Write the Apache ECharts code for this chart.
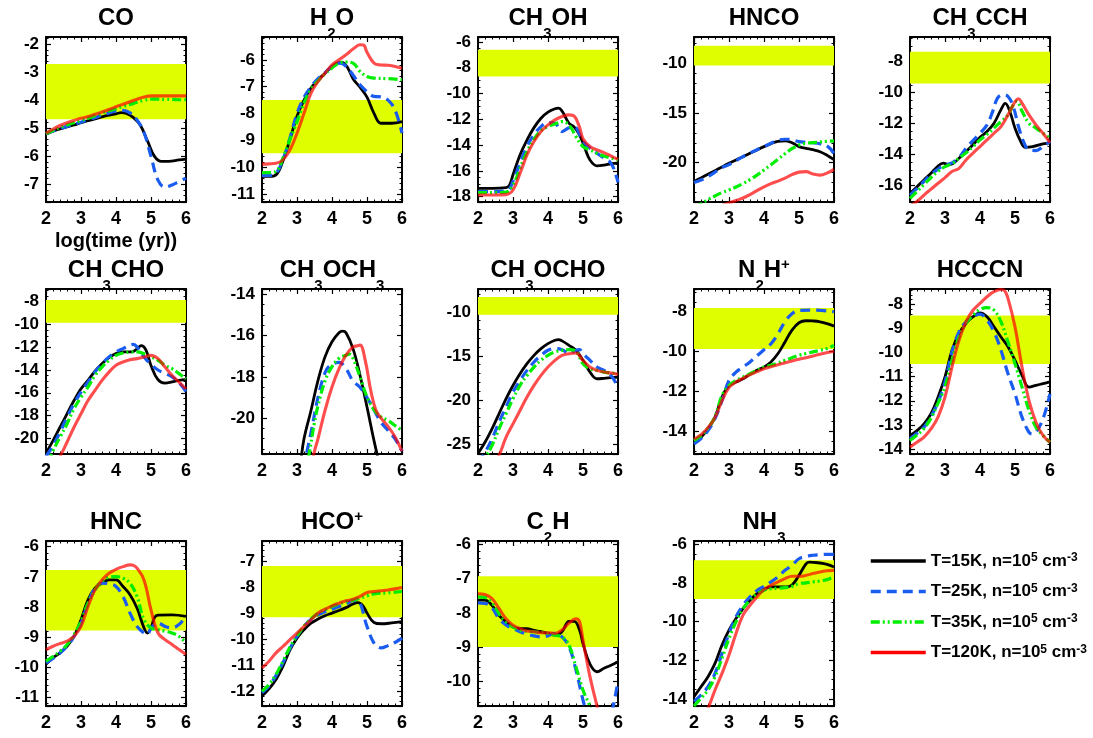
<!DOCTYPE html>
<html><head><meta charset="utf-8">
<script src="https://cdn.jsdelivr.net/npm/echarts@6/dist/echarts.min.js"></script>
<style>html,body{margin:0;padding:0;background:#fff;}#c{width:1093px;height:738px;}</style>
</head><body><div id="c"></div>
<script>
// ---------------- data (x = log(time/yr), y = log abundance) ----------------
const CO_15 = [[2,-5.2],[2.2,-5.1],[2.4,-5.02],[2.6,-4.95],[2.8,-4.88],[3,-4.8],[3.2,-4.73],[3.4,-4.66],[3.6,-4.59],[3.8,-4.53],[4,-4.48],[4.15,-4.44],[4.3,-4.47],[4.5,-4.62],[4.7,-4.9],[4.9,-5.45],[5.1,-6.0],[5.3,-6.18],[5.5,-6.18],[5.8,-6.13],[6,-6.1]];
const CO_25 = [[2,-5.2],[2.2,-5.1],[2.4,-5.01],[2.6,-4.93],[2.8,-4.86],[3,-4.78],[3.2,-4.7],[3.4,-4.62],[3.6,-4.53],[3.8,-4.45],[4,-4.38],[4.2,-4.36],[4.4,-4.45],[4.6,-4.7],[4.8,-5.15],[5,-6.0],[5.2,-6.85],[5.4,-7.1],[5.6,-7.02],[5.8,-6.9],[6,-6.78]];
const CO_35 = [[2,-5.2],[2.2,-5.08],[2.4,-4.97],[2.6,-4.88],[2.8,-4.8],[3,-4.72],[3.2,-4.64],[3.4,-4.55],[3.6,-4.46],[3.8,-4.38],[4,-4.3],[4.2,-4.22],[4.4,-4.15],[4.6,-4.07],[4.8,-4.0],[5,-3.96],[5.2,-3.96],[5.4,-3.97],[5.6,-3.97],[5.8,-3.98],[6,-3.98]];
const CO_120 = [[2,-5.18],[2.2,-5.03],[2.4,-4.9],[2.6,-4.8],[2.8,-4.72],[3,-4.64],[3.2,-4.58],[3.4,-4.5],[3.6,-4.42],[3.8,-4.33],[4,-4.23],[4.2,-4.14],[4.4,-4.05],[4.6,-3.96],[4.8,-3.88],[5,-3.84],[5.5,-3.84],[6,-3.84]];

const H2O_15 = [[2,-10.34],[2.2,-10.34],[2.4,-10.28],[2.6,-9.75],[2.8,-8.95],[3,-8.1],[3.2,-7.5],[3.4,-7.05],[3.6,-6.74],[3.8,-6.5],[4,-6.25],[4.2,-6.1],[4.3,-6.1],[4.45,-6.3],[4.6,-6.7],[4.8,-7.02],[5,-7.39],[5.2,-7.99],[5.4,-8.36],[5.7,-8.36],[6,-8.3]];
const H2O_25 = [[2,-10.3],[2.2,-10.3],[2.4,-10.22],[2.6,-9.7],[2.8,-8.9],[3,-8.0],[3.2,-7.4],[3.4,-7.0],[3.6,-6.7],[3.8,-6.48],[4,-6.25],[4.2,-6.12],[4.35,-6.18],[4.6,-6.56],[4.8,-6.93],[5,-7.18],[5.2,-7.36],[5.4,-7.38],[5.6,-7.5],[5.8,-7.86],[6,-8.73]];
const H2O_35 = [[2,-10.2],[2.2,-10.2],[2.4,-10.15],[2.6,-9.65],[2.8,-8.95],[3,-8.3],[3.2,-7.6],[3.4,-7.1],[3.6,-6.78],[3.8,-6.52],[4,-6.3],[4.2,-6.12],[4.4,-6.08],[4.6,-6.12],[4.8,-6.43],[5,-6.62],[5.2,-6.68],[5.6,-6.7],[6,-6.74]];
const H2O_120 = [[2,-9.88],[2.2,-9.87],[2.4,-9.85],[2.6,-9.72],[2.8,-9.35],[3,-8.73],[3.2,-7.99],[3.4,-7.24],[3.6,-6.81],[3.8,-6.5],[4,-6.19],[4.2,-6.0],[4.4,-5.81],[4.6,-5.6],[4.8,-5.44],[4.9,-5.45],[5,-5.72],[5.2,-6.12],[5.4,-6.19],[5.6,-6.2],[5.8,-6.25],[6,-6.31]];

const CH3OH_15 = [[2,-17.35],[2.4,-17.35],[2.8,-17.3],[2.9,-17.1],[3,-16.3],[3.2,-14.76],[3.4,-13.6],[3.6,-12.64],[3.8,-11.91],[4,-11.44],[4.2,-11.18],[4.3,-11.13],[4.4,-11.35],[4.6,-12.3],[4.75,-12.6],[4.9,-13.2],[5.05,-14.2],[5.2,-15.15],[5.4,-15.6],[5.6,-15.55],[5.8,-15.45],[6,-15.4]];
const CH3OH_25 = [[2,-17.6],[2.4,-17.6],[2.8,-17.55],[2.9,-17.4],[3,-16.8],[3.2,-15.4],[3.4,-14.1],[3.6,-13.2],[3.8,-12.56],[4,-12.25],[4.2,-12.3],[4.4,-12.95],[4.6,-12.65],[4.75,-12.6],[5,-13.7],[5.2,-14.24],[5.4,-14.63],[5.6,-15.0],[5.8,-15.41],[5.95,-16.4],[6,-16.9]];
const CH3OH_35 = [[2,-17.69],[2.4,-17.69],[2.8,-17.65],[3,-17.1],[3.2,-15.8],[3.4,-14.5],[3.6,-13.54],[3.8,-12.87],[4,-12.56],[4.2,-12.35],[4.4,-12.17],[4.6,-12.43],[4.8,-13.34],[5,-14.11],[5.2,-14.37],[5.4,-14.63],[5.6,-14.84],[5.8,-15.0],[6,-15.15]];
const CH3OH_120 = [[2,-17.87],[2.4,-17.87],[2.8,-17.84],[3,-17.48],[3.2,-16.19],[3.4,-14.76],[3.6,-13.72],[3.8,-12.95],[4,-12.43],[4.2,-12.04],[4.4,-11.78],[4.6,-11.65],[4.75,-11.75],[4.9,-12.6],[5,-13.5],[5.2,-14.11],[5.4,-14.37],[5.6,-14.58],[5.8,-14.84],[6,-15.1]];

const HNCO_15 = [[2,-21.9],[2.2,-21.53],[2.4,-21.17],[2.6,-20.8],[2.8,-20.43],[3,-20.07],[3.2,-19.73],[3.4,-19.4],[3.6,-19.06],[3.8,-18.72],[4,-18.39],[4.2,-18.1],[4.4,-17.85],[4.6,-17.8],[4.8,-18.0],[5,-18.39],[5.2,-18.56],[5.4,-18.7],[5.6,-18.9],[5.8,-19.25],[6,-19.7]];
const HNCO_25 = [[2,-22.0],[2.2,-21.75],[2.4,-21.4],[2.6,-20.95],[2.8,-20.5],[3,-20.2],[3.2,-19.8],[3.4,-19.4],[3.6,-19.05],[3.8,-18.7],[4,-18.39],[4.2,-18.05],[4.4,-17.75],[4.6,-17.65],[4.8,-17.7],[5,-17.89],[5.2,-17.95],[5.4,-18.0],[5.6,-18.1],[5.8,-18.32],[6,-19.06]];
const HNCO_35 = [[2,-24.5],[2.2,-24.15],[2.4,-23.7],[2.6,-23.35],[2.8,-23.0],[3,-22.75],[3.2,-22.45],[3.4,-22.1],[3.6,-21.7],[3.8,-21.25],[4,-20.74],[4.2,-20.2],[4.4,-19.65],[4.6,-19.1],[4.8,-18.6],[5,-18.22],[5.2,-18.05],[5.4,-17.99],[5.6,-17.92],[5.8,-17.86],[6,-17.82]];
const HNCO_120 = [[2,-25.8],[2.2,-25.4],[2.4,-25.0],[2.6,-24.6],[2.8,-24.3],[3,-24.05],[3.2,-23.8],[3.4,-23.55],[3.6,-23.2],[3.8,-22.8],[4,-22.42],[4.2,-22.1],[4.4,-21.85],[4.6,-21.55],[4.8,-21.2],[5,-20.95],[5.2,-20.9],[5.4,-21.15],[5.6,-21.25],[5.8,-21.05],[6,-20.67]];

const CH3CCH_15 = [[2,-16.52],[2.2,-16.09],[2.4,-15.65],[2.6,-15.22],[2.8,-14.75],[2.95,-14.57],[3.1,-14.65],[3.2,-14.62],[3.4,-14.25],[3.6,-13.82],[3.8,-13.38],[4,-12.89],[4.2,-12.52],[4.4,-11.98],[4.6,-11.1],[4.72,-10.7],[4.85,-11.2],[5,-12.3],[5.15,-13.1],[5.3,-13.55],[5.5,-13.5],[5.8,-13.32],[6,-13.23]];
const CH3CCH_25 = [[2,-16.63],[2.2,-16.2],[2.4,-15.75],[2.6,-15.3],[2.8,-14.95],[3,-14.68],[3.2,-14.55],[3.4,-14.2],[3.6,-13.6],[3.8,-13.1],[4,-12.63],[4.2,-12.09],[4.35,-11.3],[4.5,-10.36],[4.65,-10.14],[4.8,-10.25],[4.95,-10.9],[5.1,-12.2],[5.25,-13.2],[5.4,-13.7],[5.6,-13.75],[5.8,-13.49],[6,-13.17]];
const CH3CCH_35 = [[2,-16.84],[2.2,-16.4],[2.4,-15.95],[2.6,-15.5],[2.8,-15.1],[3,-14.79],[3.2,-14.6],[3.4,-14.25],[3.6,-13.9],[3.8,-13.5],[4,-13.06],[4.2,-12.7],[4.4,-12.3],[4.6,-11.87],[4.8,-11.44],[4.95,-10.8],[5.05,-10.57],[5.2,-11.2],[5.4,-11.98],[5.6,-12.3],[5.8,-12.63],[6,-12.95]];
const CH3CCH_120 = [[2,-17.35],[2.2,-17.05],[2.4,-16.63],[2.6,-16.25],[2.8,-15.87],[3,-15.5],[3.2,-15.11],[3.4,-14.9],[3.6,-14.36],[3.8,-13.92],[4,-13.49],[4.2,-13.06],[4.4,-12.63],[4.6,-12.2],[4.8,-11.44],[5,-10.6],[5.1,-10.4],[5.2,-10.68],[5.4,-11.44],[5.6,-12.09],[5.8,-12.63],[6,-13.23]];

const CH3CHO_15 = [[2,-21.32],[2.2,-20.2],[2.4,-19.03],[2.6,-17.85],[2.8,-16.68],[3,-15.65],[3.2,-14.91],[3.4,-14.09],[3.6,-13.44],[3.8,-12.91],[4,-12.56],[4.2,-12.41],[4.45,-12.4],[4.6,-12.15],[4.72,-11.85],[4.85,-12.2],[5,-13.6],[5.2,-14.85],[5.4,-15.15],[5.6,-15.05],[5.8,-14.91],[6,-14.85]];
const CH3CHO_25 = [[2,-21.6],[2.2,-20.65],[2.4,-19.47],[2.6,-18.15],[2.8,-16.97],[3,-15.94],[3.2,-15.06],[3.4,-14.18],[3.6,-13.45],[3.8,-12.85],[4,-12.41],[4.2,-12.12],[4.4,-11.82],[4.5,-11.75],[4.6,-11.97],[4.8,-12.85],[5,-13.5],[5.2,-14.0],[5.4,-14.3],[5.6,-14.6],[5.8,-15.1],[6,-15.9]];
const CH3CHO_35 = [[2,-22.5],[2.2,-21.1],[2.4,-19.9],[2.6,-18.74],[2.8,-17.41],[3,-16.38],[3.2,-15.5],[3.4,-14.47],[3.6,-13.74],[3.8,-13.15],[4,-12.71],[4.2,-12.5],[4.4,-12.42],[4.6,-12.41],[4.8,-12.56],[5,-12.85],[5.2,-13.15],[5.4,-13.59],[5.6,-13.88],[5.8,-14.32],[6,-14.76]];
const CH3CHO_120 = [[2,-23.5],[2.2,-22.6],[2.4,-21.6],[2.6,-20.35],[2.8,-19.03],[3,-17.85],[3.2,-16.68],[3.4,-15.79],[3.6,-14.91],[3.8,-14.18],[4,-13.59],[4.2,-13.29],[4.4,-13.09],[4.6,-13.0],[4.8,-12.85],[5,-12.71],[5.2,-13.0],[5.4,-13.74],[5.6,-14.47],[5.8,-15.06],[6,-15.65]];

const CH3OCH3_15 = [[3.0,-23.4],[3.1,-22.2],[3.2,-21.0],[3.4,-19.63],[3.6,-18.17],[3.8,-17.03],[4,-16.3],[4.2,-15.86],[4.3,-15.78],[4.4,-15.86],[4.6,-16.63],[4.8,-17.92],[5,-19.46],[5.2,-21.09],[5.35,-22.2],[5.5,-23.3]];
const CH3OCH3_25 = [[3.1,-23.2],[3.2,-22.3],[3.3,-21.5],[3.4,-20.7],[3.6,-19.0],[3.8,-17.8],[3.95,-17.44],[4.2,-17.3],[4.4,-17.6],[4.6,-18.2],[4.8,-18.5],[5,-19.0],[5.2,-19.6],[5.4,-20.2],[5.6,-20.6],[5.8,-21.0],[6,-21.6]];
const CH3OCH3_35 = [[3.2,-23.0],[3.35,-21.7],[3.5,-20.2],[3.6,-19.4],[3.8,-18.2],[4,-17.5],[4.2,-17.1],[4.4,-16.95],[4.5,-16.9],[4.6,-17.1],[4.8,-18.0],[5,-18.98],[5.2,-19.6],[5.4,-19.95],[5.6,-20.11],[5.8,-20.36],[6,-20.6]];
const CH3OCH3_120 = [[3.3,-23.3],[3.5,-21.6],[3.6,-21.0],[3.8,-19.63],[4,-18.49],[4.2,-17.6],[4.4,-16.95],[4.6,-16.55],[4.7,-16.5],[4.8,-16.46],[4.95,-17.2],[5.1,-18.6],[5.25,-19.6],[5.4,-20.0],[5.6,-20.4],[5.8,-20.9],[6,-21.6]];

const CH3OCHO_15 = [[2,-26.07],[2.2,-24.81],[2.4,-23.29],[2.6,-21.58],[2.8,-19.87],[3,-18.36],[3.2,-17.03],[3.4,-15.89],[3.6,-14.94],[3.8,-14.18],[4,-13.61],[4.2,-13.23],[4.3,-13.15],[4.4,-13.3],[4.6,-13.8],[4.8,-14.37],[5,-15.51],[5.2,-16.84],[5.4,-17.6],[5.6,-17.55],[5.8,-17.48],[6,-17.41]];
const CH3OCHO_25 = [[2,-27.2],[2.2,-25.95],[2.4,-24.43],[2.6,-22.53],[2.8,-20.82],[3,-19.11],[3.2,-17.79],[3.4,-16.65],[3.6,-15.7],[3.8,-14.94],[4,-14.37],[4.2,-14.18],[4.4,-14.3],[4.6,-14.7],[4.8,-14.37],[4.9,-14.3],[5,-14.75],[5.2,-15.51],[5.4,-16.27],[5.6,-16.65],[5.8,-17.22],[6,-18.55]];
const CH3OCHO_35 = [[2,-27.8],[2.2,-26.6],[2.4,-25.19],[2.6,-23.29],[2.8,-21.58],[3,-19.87],[3.2,-18.36],[3.4,-17.22],[3.6,-16.27],[3.8,-15.51],[4,-14.94],[4.2,-14.56],[4.4,-14.37],[4.6,-14.3],[4.8,-14.5],[5,-15.89],[5.2,-16.46],[5.4,-16.65],[5.6,-16.84],[5.8,-16.95],[6,-17.03]];
const CH3OCHO_120 = [[2.2,-28.5],[2.4,-27.6],[2.6,-26.3],[2.8,-24.24],[3,-22.72],[3.2,-21.2],[3.4,-19.68],[3.6,-18.36],[3.8,-17.22],[4,-16.27],[4.2,-15.51],[4.4,-14.94],[4.6,-14.75],[4.8,-14.67],[5,-15.51],[5.2,-16.27],[5.4,-16.65],[5.6,-16.84],[5.8,-16.95],[6,-17.1]];

const N2H_15 = [[2,-14.54],[2.2,-14.28],[2.4,-13.87],[2.6,-13.28],[2.8,-12.27],[3,-11.69],[3.2,-11.52],[3.4,-11.35],[3.6,-11.13],[3.8,-10.93],[4,-10.77],[4.2,-10.51],[4.4,-10.09],[4.6,-9.51],[4.8,-8.92],[5,-8.55],[5.2,-8.45],[5.4,-8.46],[5.6,-8.5],[5.8,-8.59],[6,-8.72]];
const N2H_25 = [[2,-14.62],[2.2,-14.35],[2.4,-13.95],[2.6,-13.35],[2.8,-12.44],[3,-11.44],[3.2,-11.02],[3.4,-10.77],[3.6,-10.51],[3.8,-10.2],[4,-9.9],[4.2,-9.6],[4.4,-9.1],[4.6,-8.5],[4.8,-8.1],[5,-7.93],[5.5,-7.92],[6,-8.0]];
const N2H_35 = [[2,-14.45],[2.2,-14.2],[2.4,-13.82],[2.6,-13.25],[2.8,-12.19],[3,-11.69],[3.2,-11.44],[3.4,-11.27],[3.6,-11.1],[3.8,-10.93],[4,-10.77],[4.2,-10.68],[4.4,-10.56],[4.6,-10.43],[4.8,-10.3],[5,-10.18],[5.2,-10.09],[5.4,-10.01],[5.6,-9.93],[5.8,-9.84],[6,-9.68]];
const N2H_120 = [[2,-14.37],[2.2,-14.15],[2.4,-13.8],[2.6,-13.3],[2.8,-12.45],[3,-11.8],[3.2,-11.52],[3.4,-11.33],[3.6,-11.15],[3.8,-11.0],[4,-10.85],[4.4,-10.65],[4.8,-10.46],[5.2,-10.3],[5.6,-10.13],[6,-9.98]];

const HCCCN_15 = [[2,-13.44],[2.2,-13.24],[2.4,-12.96],[2.6,-12.54],[2.8,-11.85],[3,-11.01],[3.2,-9.9],[3.4,-9.21],[3.6,-8.79],[3.8,-8.51],[4,-8.35],[4.2,-8.51],[4.4,-8.93],[4.6,-9.35],[4.8,-9.76],[5,-10.32],[5.2,-10.94],[5.4,-11.43],[5.6,-11.36],[5.8,-11.29],[6,-11.22]];
const HCCCN_25 = [[2,-13.58],[2.2,-13.35],[2.4,-13.1],[2.6,-12.65],[2.8,-12.06],[3,-11.22],[3.2,-9.97],[3.4,-9.14],[3.6,-8.72],[3.8,-8.51],[4,-8.4],[4.2,-8.65],[4.4,-9.14],[4.6,-9.9],[4.8,-10.88],[5,-11.71],[5.2,-12.68],[5.4,-13.31],[5.5,-13.38],[5.6,-13.3],[5.8,-12.75],[6,-11.71]];
const HCCCN_35 = [[2,-13.65],[2.2,-13.42],[2.4,-13.15],[2.6,-12.72],[2.8,-12.1],[3,-11.43],[3.2,-10.32],[3.4,-9.35],[3.6,-8.79],[3.8,-8.44],[4,-8.21],[4.2,-8.13],[4.4,-8.24],[4.6,-8.72],[4.8,-9.56],[5,-10.46],[5.2,-11.43],[5.4,-12.4],[5.6,-13.1],[5.8,-13.44],[6,-13.72]];
const HCCCN_120 = [[2,-13.93],[2.2,-13.72],[2.4,-13.51],[2.6,-13.17],[2.8,-12.68],[3,-11.85],[3.2,-10.6],[3.4,-9.49],[3.6,-8.72],[3.8,-8.24],[4,-7.96],[4.2,-7.68],[4.4,-7.47],[4.6,-7.38],[4.7,-7.42],[4.8,-7.75],[5,-8.93],[5.2,-10.6],[5.4,-11.99],[5.6,-12.89],[5.8,-13.44],[6,-13.72]];

const HNC_15 = [[2,-9.9],[2.2,-9.68],[2.4,-9.52],[2.6,-9.3],[2.8,-8.97],[3,-8.42],[3.2,-7.76],[3.4,-7.37],[3.6,-7.21],[3.8,-7.1],[4,-7.1],[4.2,-7.32],[4.4,-7.59],[4.6,-8.03],[4.8,-8.69],[4.9,-8.86],[5,-8.7],[5.1,-8.35],[5.2,-8.27],[5.6,-8.26],[6,-8.31]];
const HNC_25 = [[2,-9.85],[2.2,-9.7],[2.4,-9.52],[2.6,-9.3],[2.8,-8.97],[3,-8.53],[3.2,-7.87],[3.4,-7.37],[3.6,-7.21],[3.8,-7.23],[4,-7.32],[4.2,-7.65],[4.4,-8.2],[4.6,-8.64],[4.8,-8.86],[4.9,-8.9],[5,-8.7],[5.2,-8.53],[5.4,-8.64],[5.6,-8.69],[5.8,-8.58],[6,-8.31]];
const HNC_35 = [[2,-9.79],[2.2,-9.64],[2.4,-9.47],[2.6,-9.25],[2.8,-8.92],[3,-8.47],[3.2,-7.87],[3.4,-7.43],[3.6,-7.15],[3.8,-7.01],[4,-6.99],[4.2,-7.04],[4.4,-7.21],[4.6,-7.65],[4.8,-8.42],[5,-8.69],[5.2,-8.75],[5.4,-8.8],[5.6,-8.86],[5.8,-8.97],[6,-9.19]];
const HNC_120 = [[2,-9.41],[2.2,-9.3],[2.4,-9.21],[2.6,-9.13],[2.8,-8.97],[3,-8.64],[3.2,-7.98],[3.4,-7.43],[3.6,-7.1],[3.8,-6.88],[4,-6.75],[4.2,-6.66],[4.4,-6.6],[4.5,-6.62],[4.6,-6.71],[4.8,-7.1],[5,-8.09],[5.2,-8.86],[5.4,-9.08],[5.6,-9.24],[5.8,-9.41],[6,-9.57]];

const HCO_15 = [[2,-12.19],[2.2,-11.91],[2.4,-11.55],[2.6,-11.04],[2.8,-10.41],[3,-9.96],[3.2,-9.64],[3.4,-9.39],[3.6,-9.23],[3.8,-9.1],[4,-9.0],[4.2,-8.9],[4.4,-8.79],[4.6,-8.65],[4.75,-8.6],[4.9,-8.75],[5,-9.0],[5.2,-9.36],[5.4,-9.41],[5.7,-9.38],[6,-9.33]];
const HCO_25 = [[2,-12.06],[2.2,-11.8],[2.4,-11.4],[2.6,-10.9],[2.8,-10.35],[3,-9.9],[3.2,-9.51],[3.4,-9.25],[3.6,-9.07],[3.8,-8.95],[4,-8.85],[4.2,-8.75],[4.4,-8.65],[4.6,-8.52],[4.75,-8.55],[5,-9.51],[5.2,-10.15],[5.4,-10.34],[5.6,-10.25],[5.8,-10.13],[6,-9.96]];
const HCO_35 = [[2,-12.0],[2.2,-11.75],[2.4,-11.35],[2.6,-10.85],[2.8,-10.3],[3,-9.88],[3.2,-9.5],[3.4,-9.22],[3.6,-9.02],[3.8,-8.87],[4,-8.75],[4.2,-8.65],[4.4,-8.56],[4.6,-8.5],[4.8,-8.43],[5,-8.34],[5.2,-8.26],[5.6,-8.22],[6,-8.17]];
const HCO_120 = [[2,-11.11],[2.2,-10.85],[2.4,-10.53],[2.6,-10.28],[2.8,-10.02],[3,-9.77],[3.2,-9.51],[3.4,-9.26],[3.6,-9.0],[3.8,-8.85],[4,-8.72],[4.2,-8.62],[4.4,-8.53],[4.6,-8.47],[4.8,-8.36],[5,-8.21],[5.2,-8.17],[5.4,-8.14],[5.6,-8.11],[5.8,-8.07],[6,-8.02]];

const C2H_15 = [[2,-7.63],[2.2,-7.63],[2.4,-7.78],[2.6,-8.07],[2.8,-8.26],[3,-8.41],[3.2,-8.46],[3.4,-8.46],[3.6,-8.51],[3.8,-8.55],[4,-8.6],[4.2,-8.65],[4.4,-8.55],[4.6,-8.25],[4.75,-8.25],[4.9,-8.5],[5,-8.9],[5.2,-9.5],[5.4,-9.72],[5.6,-9.62],[5.8,-9.53],[6,-9.43]];
const C2H_25 = [[2,-7.71],[2.2,-7.72],[2.4,-7.85],[2.6,-8.17],[2.8,-8.35],[3,-8.46],[3.2,-8.55],[3.4,-8.62],[3.6,-8.67],[3.8,-8.7],[4,-8.67],[4.2,-8.6],[4.4,-8.7],[4.6,-8.99],[4.8,-9.67],[5,-10.55],[5.1,-10.9],[5.3,-11.6],[5.6,-11.6],[5.8,-11.0],[6,-10.0]];
const C2H_35 = [[2,-7.53],[2.2,-7.55],[2.4,-7.7],[2.6,-8.02],[2.8,-8.26],[3,-8.41],[3.2,-8.51],[3.6,-8.55],[4,-8.6],[4.2,-8.65],[4.4,-8.7],[4.6,-8.94],[4.8,-9.58],[5,-10.26],[5.2,-10.74],[5.4,-11.5]];
const C2H_120 = [[2,-7.44],[2.2,-7.46],[2.4,-7.58],[2.6,-7.87],[2.8,-8.17],[3,-8.36],[3.2,-8.46],[3.4,-8.53],[3.6,-8.55],[3.8,-8.58],[4,-8.58],[4.2,-8.6],[4.4,-8.5],[4.6,-8.3],[4.8,-8.17],[4.9,-8.25],[5,-8.8],[5.2,-9.87],[5.4,-10.72],[5.6,-11.6]];

const NH3_15 = [[2,-13.89],[2.2,-13.37],[2.4,-12.85],[2.6,-12.16],[2.8,-11.21],[3,-10.44],[3.2,-9.84],[3.4,-9.32],[3.6,-8.89],[3.8,-8.55],[4,-8.34],[4.2,-8.2],[4.4,-8.2],[4.6,-8.2],[4.8,-8.1],[5,-7.6],[5.2,-7.0],[5.3,-6.91],[5.6,-6.96],[5.8,-7.03],[6,-7.17]];
const NH3_25 = [[2,-14.14],[2.2,-13.8],[2.4,-13.37],[2.6,-12.68],[2.8,-11.65],[3,-10.61],[3.2,-9.75],[3.4,-9.15],[3.6,-8.72],[3.8,-8.38],[4,-8.17],[4.2,-7.94],[4.4,-7.68],[4.6,-7.34],[4.8,-7.08],[5,-6.74],[5.2,-6.62],[5.4,-6.56],[5.6,-6.53],[5.8,-6.51],[6,-6.51]];
const NH3_35 = [[2,-14.37],[2.2,-13.97],[2.4,-13.54],[2.6,-12.85],[2.8,-11.9],[3,-10.87],[3.2,-10.01],[3.4,-9.32],[3.6,-8.89],[3.8,-8.58],[4,-8.37],[4.2,-8.29],[4.4,-8.27],[4.6,-8.24],[4.8,-8.17],[5,-8.03],[5.2,-7.99],[5.4,-7.94],[5.6,-7.89],[5.8,-7.82],[6,-7.68]];
const NH3_120 = [[2,-15.9],[2.2,-15.2],[2.4,-14.5],[2.6,-13.54],[2.8,-12.68],[3,-11.73],[3.2,-10.61],[3.4,-9.66],[3.6,-9.15],[3.8,-8.72],[4,-8.34],[4.2,-8.12],[4.4,-7.94],[4.6,-7.77],[4.8,-7.65],[5,-7.65],[5.2,-7.6],[5.4,-7.51],[5.6,-7.43],[5.8,-7.36],[6,-7.34]];

// panel titles (rich text: a = normal, s = subscript, p = superscript)
const TITLES = ['{a|CO}','{a|H}{s|2}{a|O}','{a|CH}{s|3}{a|OH}','{a|HNCO}','{a|CH}{s|3}{a|CCH}',
  '{a|CH}{s|3}{a|CHO}','{a|CH}{s|3}{a|OCH}{s|3}','{a|CH}{s|3}{a|OCHO}','{a|N}{s|2}{a|H}{p|+}','{a|HCCCN}',
  '{a|HNC}','{a|HCO}{p|+}','{a|C}{s|2}{a|H}','{a|NH}{s|3}'];
const Y_MIN  = [-7.63,-11.29,-18.41,-23.95,-17.08,-21.38,-21.74,-26.14,-15.12,-14.21,-11.28,-12.57,-10.72,-14.37];
const Y_MAX  = [-1.74,-5.15,-5.61,-7.38,-6.40,-6.88,-13.74,-7.41,-6.86,-7.36,-5.81,-6.23,-5.90,-5.82];
const Y_STEP = [1,1,2,5,2,2,2,5,2,1,1,1,1,2];
const BAND_LO = [-4.68,-9.48,-8.67,-10.24,-9.41,-9.85,null,-10.34,-9.86,-10.47,-8.78,-9.16,-9.0,-8.82];
const BAND_HI = [-2.70,-7.49,-6.60,-8.26,-7.35,-7.85,null,-8.33,-7.81,-8.46,-6.77,-7.19,-6.93,-6.82];
const SERIES = [
  [CO_15,CO_25,CO_35,CO_120],[H2O_15,H2O_25,H2O_35,H2O_120],[CH3OH_15,CH3OH_25,CH3OH_35,CH3OH_120],
  [HNCO_15,HNCO_25,HNCO_35,HNCO_120],[CH3CCH_15,CH3CCH_25,CH3CCH_35,CH3CCH_120],
  [CH3CHO_15,CH3CHO_25,CH3CHO_35,CH3CHO_120],[CH3OCH3_15,CH3OCH3_25,CH3OCH3_35,CH3OCH3_120],
  [CH3OCHO_15,CH3OCHO_25,CH3OCHO_35,CH3OCHO_120],[N2H_15,N2H_25,N2H_35,N2H_120],
  [HCCCN_15,HCCCN_25,HCCCN_35,HCCCN_120],[HNC_15,HNC_25,HNC_35,HNC_120],
  [HCO_15,HCO_25,HCO_35,HCO_120],[C2H_15,C2H_25,C2H_35,C2H_120],[NH3_15,NH3_25,NH3_35,NH3_120]];
const NAMES = ['T=15K','T=25K','T=35K','T=120K'];
const X_TICKS = [2,3,4,5,6];

// ---------------- styling ----------------
const F = "'Liberation Sans', Arial, Helvetica, sans-serif";
const STYLES = [
  {color:'#000000', width:2.8, type:'solid', opacity:1},
  {color:'#1a5cf0', width:3.2, type:[10,6], opacity:1},
  {color:'#00ee00', width:3.2, type:[9,3,2,3,2,3], opacity:1},
  {color:'#ff0000', width:3.1, type:'solid', opacity:0.7}
];
const ROW_TOP = [37, 289, 541];
const GW = 140, GH = 165;
const BLACK = '#000';

const grids = [], xAxes = [], yAxes = [], series = [], titles = [];
for (let i = 0; i < 14; i++) {
  const col = i % 5, row = Math.floor(i / 5);
  const left = 46 + 216 * col, top = ROW_TOP[row];
  grids.push({left, top, width: GW, height: GH, containLabel: false, outerBoundsMode: 'none'});
  const step = Y_STEP[i];
  const axisCommon = {
    axisLine: {show: true, onZero: false, lineStyle: {color: BLACK, width: 2}},
    axisTick: {show: true, inside: true, length: 5, lineStyle: {color: BLACK, width: 1.2}},
    splitLine: {show: false}
  };
  xAxes.push(Object.assign({
    type: 'value', gridIndex: i, position: 'bottom', min: X_TICKS[0], max: X_TICKS[X_TICKS.length-1], interval: 1,
    minorTick: {show: true, splitNumber: 5, length: 2.5, lineStyle: {color: BLACK, width: 1}},
    axisLabel: {show: true, color: BLACK, fontSize: 18, fontWeight: 'bold', fontFamily: F, margin: 8},
    name: i === 0 ? 'log(time (yr))' : '', nameLocation: 'middle', nameGap: 29,
    nameTextStyle: {color: BLACK, fontSize: 20, fontWeight: 'bold', fontFamily: F}
  }, axisCommon));
  xAxes.push(Object.assign({
    type: 'value', gridIndex: i, position: 'top', min: X_TICKS[0], max: X_TICKS[X_TICKS.length-1], interval: 1,
    minorTick: {show: true, splitNumber: 5, length: 2.5, lineStyle: {color: BLACK, width: 1}},
    axisLabel: {show: false}
  }, axisCommon));
  const yLabel = {show: true, color: BLACK, fontSize: 17, fontWeight: 'bold', fontFamily: F, margin: 7,
    formatter: v => (Math.abs(v / step - Math.round(v / step)) < 1e-6 ? String(Math.round(v)) : '')};
  const minorSplit = step === 2 ? 4 : 5;
  yAxes.push(Object.assign({
    type: 'value', gridIndex: i, position: 'left', min: Y_MIN[i], max: Y_MAX[i], minInterval: step, maxInterval: step,
    minorTick: {show: true, splitNumber: minorSplit, length: 2.5, lineStyle: {color: BLACK, width: 1}},
    axisLabel: yLabel
  }, axisCommon));
  yAxes.push(Object.assign({
    type: 'value', gridIndex: i, position: 'right', min: Y_MIN[i], max: Y_MAX[i], minInterval: step, maxInterval: step,
    minorTick: {show: true, splitNumber: minorSplit, length: 2.5, lineStyle: {color: BLACK, width: 1}},
    axisLabel: {show: false}
  }, axisCommon));

  // yellow observed range band
  if (BAND_LO[i] !== null) {
    series.push({
      type: 'line', name: 'band' + i, xAxisIndex: 2 * i, yAxisIndex: 2 * i, data: [], silent: true, z: 1,
      markArea: {silent: true, itemStyle: {color: '#dfff00', opacity: 1},
        data: [[{yAxis: BAND_HI[i]}, {yAxis: BAND_LO[i]}]]}
    });
  }
  for (let k = 0; k < 4; k++) {
    const st = STYLES[k];
    series.push({
      type: 'line', name: NAMES[k], xAxisIndex: 2 * i, yAxisIndex: 2 * i,
      data: SERIES[i][k], symbol: 'none', showSymbol: false, smooth: 0.4,
      clip: true, z: 3 + k, color: st.color,
      lineStyle: {color: st.color, width: st.width, type: st.type, opacity: st.opacity, cap: 'butt', join: 'round'},
      emphasis: {disabled: true}
    });
  }
  titles.push({
    text: TITLES[i], left: left + GW / 2, top: top - 44, textAlign: 'center', padding: 0,
    textStyle: {rich: {
      a: {fontSize: 24, fontWeight: 'bold', fontFamily: F, color: BLACK, lineHeight: 50},
      s: {fontSize: 15, fontWeight: 'bold', fontFamily: F, color: BLACK, padding: [32, 0, 0, 0]},
      p: {fontSize: 15, fontWeight: 'bold', fontFamily: F, color: BLACK, padding: [0, 0, 10, 0]}
    }}
  });
}

const option = {
  backgroundColor: '#ffffff',
  animation: false,
  title: titles,
  grid: grids,
  xAxis: xAxes,
  yAxis: yAxes,
  legend: {
    orient: 'vertical', left: 864, top: 547, itemWidth: 55, itemHeight: 14, itemGap: 13,
    selectedMode: false,
    data: NAMES.map((n, k) => ({name: n, itemStyle: {opacity: 0, borderWidth: 0},
      lineStyle: {color: STYLES[k].color, width: 3.5, type: STYLES[k].type, opacity: 1}})),
    formatter: n => '{a|' + n + ', n=10}{s|5}{a| cm}{s|-3}',
    textStyle: {rich: {
      a: {fontSize: 17, fontWeight: 'bold', fontFamily: F, color: BLACK, lineHeight: 20},
      s: {fontSize: 12, fontWeight: 'bold', fontFamily: F, color: BLACK, padding: [0, 0, 6, 0]}
    }}
  },
  series: series
};
const chart = echarts.init(document.getElementById('c'), null, {renderer: 'canvas'});
chart.setOption(option);
</script></body></html>
